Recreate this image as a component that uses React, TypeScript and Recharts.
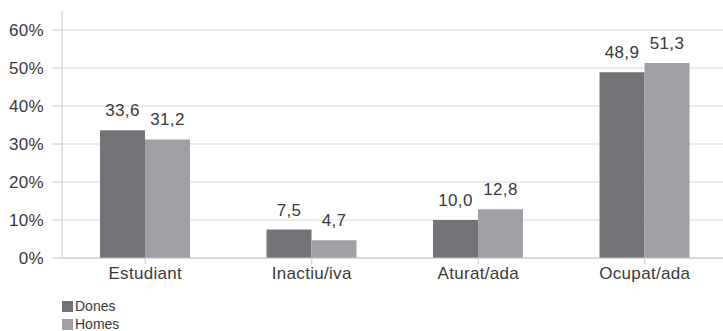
import { BarChart, Bar, XAxis, YAxis, CartesianGrid, LabelList } from 'recharts';

const categories = ['Estudiant', 'Inactiu/iva', 'Aturat/ada', 'Ocupat/ada'];
const dones = [33.6, 7.5, 10.0, 48.9];
const homes = [31.2, 4.7, 12.8, 51.3];
const yTicks = [0, 10, 20, 30, 40, 50, 60];

const series = [
  { key: 'dones', name: 'Dones', color: '#737377' },
  { key: 'homes', name: 'Homes', color: '#a0a0a4' },
];

const data = categories.map((c, i) => ({ category: c, dones: dones[i], homes: homes[i] }));

const font = '"Liberation Sans", Arial, sans-serif';
const fmt = (v: any) => Number(v).toFixed(1).replace('.', ',');
const textStyle = { fill: '#3a3a3a', fontSize: 17, fontFamily: font, letterSpacing: 0.3 };

export default function App() {
  return (
    <div style={{ position: 'absolute', left: 0, top: 0, width: 723, height: 331, overflow: 'hidden', background: '#fff', fontFamily: font }}>
      <BarChart
        width={728}
        height={331}
        data={data}
        margin={{ top: 11, right: 0, bottom: 43, left: 0 }}
        barGap={0}
        barSize={45}
      >
        <CartesianGrid vertical={false} stroke="#d9d9d9" syncWithTicks />
        <XAxis
          dataKey="category"
          height={30}
          tickSize={6}
          tickMargin={3}
          stroke="#c8c8c8"
          tick={textStyle}
        />
        <YAxis
          domain={[0, 65]}
          ticks={yTicks}
          width={62}
          tickSize={10}
          tickMargin={8}
          stroke="#c8c8c8"
          tickFormatter={(v) => `${v}%`}
          tick={textStyle}
        />
        {series.map((s) => (
          <Bar key={s.key} dataKey={s.key} name={s.name} fill={s.color} isAnimationActive={false}>
            <LabelList dataKey={s.key} position="top" offset={14} formatter={fmt} style={textStyle} />
          </Bar>
        ))}
      </BarChart>
      <div style={{ position: 'absolute', left: 62, top: 297, fontSize: 14, color: '#3a3a3a', lineHeight: '18px' }}>
        {series.map((s) => (
          <div key={s.key} style={{ display: 'flex', alignItems: 'center', height: 18 }}>
            <span style={{ display: 'inline-block', width: 11, height: 11, background: s.color, marginRight: 2 }} />
            <span>{s.name}</span>
          </div>
        ))}
      </div>
    </div>
  );
}
